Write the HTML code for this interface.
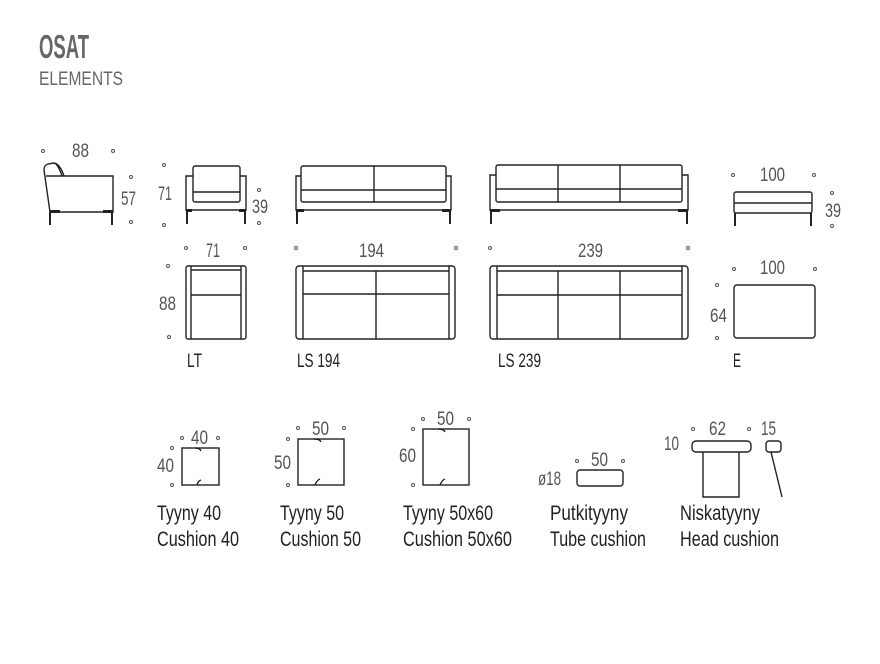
<!DOCTYPE html>
<html><head><meta charset="utf-8"><style>
html,body{margin:0;padding:0;background:#fff;width:880px;height:664px;overflow:hidden}
svg{display:block}
text{font-family:"Liberation Sans",sans-serif;fill:#555}
.d{fill:none;stroke:#555;stroke-width:1}
.l{fill:none;stroke:#222;stroke-width:1.4}
.k{fill:#222}
.lab{fill:#222;font-size:19px}
.b{fill:#222;font-size:21px}
</style></head><body>
<svg width="880" height="664" viewBox="0 0 880 664">
<text x="39" y="58" style="font-size:33px;font-weight:bold;fill:#666" textLength="50" lengthAdjust="spacingAndGlyphs">OSAT</text>
<text x="39" y="85" style="font-size:19px;fill:#666" textLength="84" lengthAdjust="spacingAndGlyphs">ELEMENTS</text>

<g style="font-size:19px">
<!-- side -->
<circle class="d" cx="43" cy="151" r="1.5"/><circle class="d" cx="113" cy="151" r="1.5"/>
<text x="72" y="157" textLength="17" lengthAdjust="spacingAndGlyphs">88</text>
<circle class="d" cx="131" cy="177" r="1.5"/><circle class="d" cx="131" cy="222" r="1.5"/>
<text x="121" y="205" textLength="15" lengthAdjust="spacingAndGlyphs">57</text>
<path class="l" d="M46 176 H113 V212 H50 L44 170 Q44 165 48 164 L54 163 Q58 164 62 176 M54 163 Q60 164 64 176"/>
<rect class="k" x="50" y="210" width="10" height="3"/><rect class="k" x="103" y="210" width="10" height="3"/>
<rect class="k" x="49" y="212" width="2" height="13"/><rect class="k" x="111" y="212" width="2" height="13"/>

<!-- chair front -->
<circle class="d" cx="164" cy="165" r="1.5"/><circle class="d" cx="164" cy="225" r="1.5"/>
<text x="158" y="200" textLength="14" lengthAdjust="spacingAndGlyphs">71</text>
<circle class="d" cx="259" cy="190" r="1.5"/><circle class="d" cx="259" cy="223" r="1.5"/>
<text x="252" y="213" textLength="16" lengthAdjust="spacingAndGlyphs">39</text>
<path class="l" d="M193 176 H186 V210 H246 V176 H240"/>
<rect class="l" x="193" y="166" width="47" height="36" rx="2"/><line class="l" x1="193" y1="192" x2="240" y2="192"/>
<rect class="k" x="186" y="210" width="2" height="14"/><rect class="k" x="244" y="210" width="2" height="14"/>
<rect class="k" x="186" y="209" width="6" height="3"/><rect class="k" x="239" y="209" width="7" height="3"/>

<!-- LS194 front -->
<path class="l" d="M301 176 H296 V210 H451 V176 H446"/>
<rect class="l" x="301" y="166" width="145" height="36" rx="2"/><line class="l" x1="301" y1="190" x2="446" y2="190"/><line class="l" x1="374" y1="166" x2="374" y2="202"/>
<rect class="k" x="296" y="210" width="2" height="14"/><rect class="k" x="449" y="210" width="2" height="14"/>
<rect class="k" x="296" y="209" width="8" height="3"/><rect class="k" x="442" y="209" width="9" height="3"/>

<!-- LS239 front -->
<path class="l" d="M496 175 H490 V210 H688 V175 H682"/>
<rect class="l" x="496" y="165" width="186" height="37" rx="2"/><line class="l" x1="496" y1="189" x2="682" y2="189"/>
<line class="l" x1="558" y1="165" x2="558" y2="202"/><line class="l" x1="620" y1="165" x2="620" y2="202"/>
<rect class="k" x="490" y="210" width="2" height="14"/><rect class="k" x="686" y="210" width="2" height="14"/>
<rect class="k" x="490" y="209" width="10" height="3"/><rect class="k" x="678" y="209" width="10" height="3"/>

<!-- E front -->
<circle class="d" cx="733" cy="175" r="1.5"/><circle class="d" cx="814" cy="175" r="1.5"/>
<text x="760" y="181" textLength="25" lengthAdjust="spacingAndGlyphs">100</text>
<circle class="d" cx="832" cy="193" r="1.5"/><circle class="d" cx="832" cy="226" r="1.5"/>
<text x="825" y="217" textLength="16" lengthAdjust="spacingAndGlyphs">39</text>
<rect class="l" x="734" y="192" width="78" height="21" rx="2"/><line class="l" x1="734" y1="203" x2="812" y2="203"/>
<rect class="k" x="734" y="213" width="2" height="13"/><rect class="k" x="810" y="213" width="2" height="13"/>

<!-- LT top -->
<circle class="d" cx="186" cy="248" r="1.5"/><circle class="d" cx="245" cy="248" r="1.5"/>
<text x="206" y="257" textLength="14" lengthAdjust="spacingAndGlyphs">71</text>
<circle class="d" cx="168" cy="266" r="1.5"/><circle class="d" cx="169" cy="337" r="1.5"/>
<text x="159" y="310" textLength="17" lengthAdjust="spacingAndGlyphs">88</text>
<rect class="l" x="186" y="266" width="60" height="73" rx="2"/>
<path class="l" d="M191 266 V339 M241 266 V339 M191 270 H241 M191 295 H241"/>

<!-- LS194 top -->
<circle class="d" cx="296" cy="248" r="1.5"/><circle class="d" cx="456" cy="248" r="1.5"/>
<text x="359" y="257" textLength="25" lengthAdjust="spacingAndGlyphs">194</text>
<rect class="l" x="296" y="266" width="159" height="73" rx="3"/>
<path class="l" d="M303 266 V339 M449 266 V339 M303 271 H449 M303 294 H449 M376 271 V339"/>

<!-- LS239 top -->
<circle class="d" cx="490" cy="248" r="1.5"/><circle class="d" cx="688" cy="248" r="1.5"/>
<text x="578" y="257" textLength="25" lengthAdjust="spacingAndGlyphs">239</text>
<rect class="l" x="490" y="266" width="198" height="73" rx="3"/>
<path class="l" d="M497 266 V339 M682 266 V339 M497 271 H682 M497 295 H682 M558 271 V339 M620 271 V339"/>

<!-- E top -->
<circle class="d" cx="734" cy="269" r="1.5"/><circle class="d" cx="815" cy="269" r="1.5"/>
<text x="760" y="274" textLength="25" lengthAdjust="spacingAndGlyphs">100</text>
<circle class="d" cx="717" cy="285" r="1.5"/><circle class="d" cx="717" cy="338" r="1.5"/>
<text x="710" y="322" textLength="17" lengthAdjust="spacingAndGlyphs">64</text>
<rect class="l" x="734" y="285" width="81" height="53" rx="3"/>
</g>

<text class="lab" x="187" y="367" textLength="15" lengthAdjust="spacingAndGlyphs">LT</text>
<text class="lab" x="297" y="367" textLength="43" lengthAdjust="spacingAndGlyphs">LS 194</text>
<text class="lab" x="498" y="367" textLength="43" lengthAdjust="spacingAndGlyphs">LS 239</text>
<text class="lab" x="733" y="367" textLength="8" lengthAdjust="spacingAndGlyphs">E</text>

<g style="font-size:19px">
<!-- cushion 40 -->
<circle class="d" cx="182" cy="438" r="1.5"/><circle class="d" cx="218" cy="438" r="1.5"/>
<text x="191" y="444" textLength="17" lengthAdjust="spacingAndGlyphs">40</text>
<circle class="d" cx="172" cy="448" r="1.5"/><circle class="d" cx="172" cy="485" r="1.5"/>
<text x="157" y="472" textLength="17" lengthAdjust="spacingAndGlyphs">40</text>
<rect class="l" x="182" y="448" width="37" height="37"/>
<path class="l" d="M195 448 Q200 448 201 451 M197 485 Q198 481 201 480"/>
<!-- cushion 50 -->
<circle class="d" cx="298" cy="428" r="1.5"/><circle class="d" cx="344" cy="428" r="1.5"/>
<text x="312" y="435" textLength="17" lengthAdjust="spacingAndGlyphs">50</text>
<circle class="d" cx="288" cy="439" r="1.5"/><circle class="d" cx="288" cy="485" r="1.5"/>
<text x="274" y="469" textLength="17" lengthAdjust="spacingAndGlyphs">50</text>
<rect class="l" x="298" y="439" width="46" height="46"/>
<path class="l" d="M314 439 Q320 439 321 442 M315 485 Q317 480 320 479"/>
<!-- cushion 50x60 -->
<circle class="d" cx="423" cy="419" r="1.5"/><circle class="d" cx="469" cy="419" r="1.5"/>
<text x="437" y="425" textLength="17" lengthAdjust="spacingAndGlyphs">50</text>
<circle class="d" cx="413" cy="429" r="1.5"/><circle class="d" cx="413" cy="485" r="1.5"/>
<text x="399" y="462" textLength="17" lengthAdjust="spacingAndGlyphs">60</text>
<rect class="l" x="423" y="429" width="46" height="56"/>
<path class="l" d="M438 429 Q444 429 445 432 M440 485 Q442 480 445 479"/>
<!-- tube -->
<circle class="d" cx="577" cy="461" r="1.5"/><circle class="d" cx="623" cy="461" r="1.5"/>
<text x="591" y="466" textLength="17" lengthAdjust="spacingAndGlyphs">50</text>
<text x="538" y="485" textLength="23" lengthAdjust="spacingAndGlyphs">ø18</text>
<rect class="l" x="577" y="470" width="46" height="16" rx="3"/>
<!-- head -->
<circle class="d" cx="693" cy="429" r="1.5"/><circle class="d" cx="749" cy="429" r="1.5"/>
<text x="709" y="435" textLength="17" lengthAdjust="spacingAndGlyphs">62</text>
<text x="664" y="450" textLength="15" lengthAdjust="spacingAndGlyphs">10</text>
<text x="761" y="435" textLength="15" lengthAdjust="spacingAndGlyphs">15</text>
<rect class="l" x="692" y="441" width="59" height="11" rx="4"/>
<path class="l" d="M703 452 V497 H739 V452"/>
<rect class="l" x="766" y="441" width="15" height="11" rx="3"/>
<line class="l" x1="771" y1="452" x2="782" y2="497"/>
</g>

<text class="b" x="157" y="520" textLength="64" lengthAdjust="spacingAndGlyphs">Tyyny 40</text>
<text class="b" x="157" y="546" textLength="82" lengthAdjust="spacingAndGlyphs">Cushion 40</text>
<text class="b" x="280" y="520" textLength="64" lengthAdjust="spacingAndGlyphs">Tyyny 50</text>
<text class="b" x="280" y="546" textLength="81" lengthAdjust="spacingAndGlyphs">Cushion 50</text>
<text class="b" x="403" y="520" textLength="90" lengthAdjust="spacingAndGlyphs">Tyyny 50x60</text>
<text class="b" x="403" y="546" textLength="109" lengthAdjust="spacingAndGlyphs">Cushion 50x60</text>
<text class="b" x="550" y="520" textLength="78" lengthAdjust="spacingAndGlyphs">Putkityyny</text>
<text class="b" x="550" y="546" textLength="96" lengthAdjust="spacingAndGlyphs">Tube cushion</text>
<text class="b" x="680" y="520" textLength="80" lengthAdjust="spacingAndGlyphs">Niskatyyny</text>
<text class="b" x="680" y="546" textLength="99" lengthAdjust="spacingAndGlyphs">Head cushion</text>
</svg>
</body></html>
